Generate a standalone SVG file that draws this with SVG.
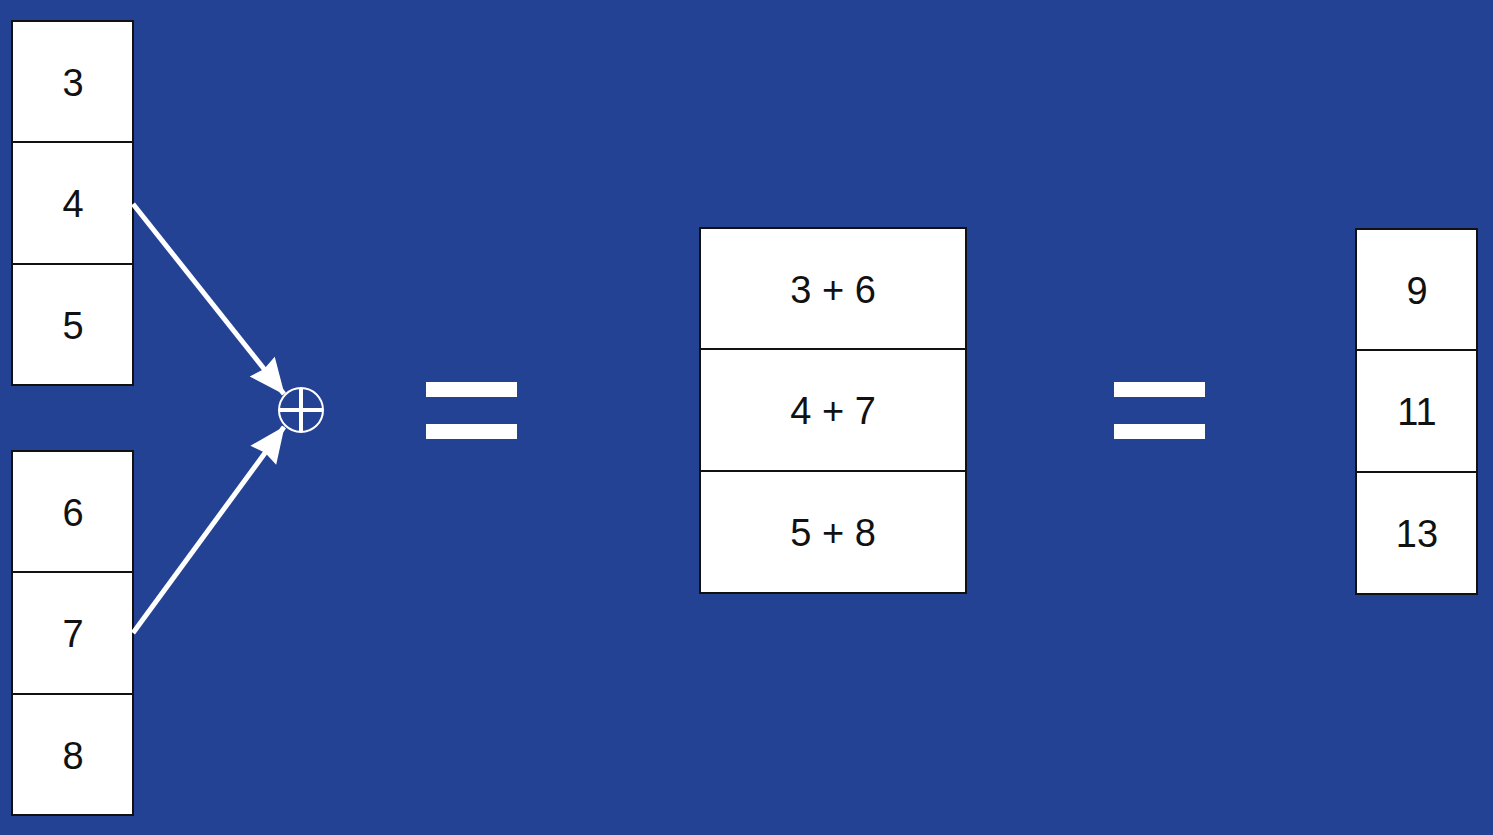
<svg xmlns="http://www.w3.org/2000/svg" width="1493" height="835" viewBox="0 0 1493 835">
<style>
.cell{fill:#ffffff;stroke:#111111;stroke-width:2}
.t{font-family:"Liberation Sans",Arial,sans-serif;font-size:38px;fill:#111111;text-anchor:middle}
.eq{fill:#ffffff}
.conn{stroke:#ffffff;stroke-width:5;fill:none}
</style>
<defs>
<marker id="ah" markerUnits="userSpaceOnUse" viewBox="0 0 36 32" markerWidth="36" markerHeight="32" refX="35" refY="16" orient="auto" overflow="visible">
<path d="M0,0 L36,16 L0,32 L3,16 Z" fill="#ffffff"/>
</marker>
</defs>
<rect width="1493" height="835" fill="#234294"/>
<g id="vecA">
<rect class="cell" x="12" y="21" width="121" height="121"/>
<rect class="cell" x="12" y="142" width="121" height="122"/>
<rect class="cell" x="12" y="264" width="121" height="121"/>
<text class="t" x="73" y="96">3</text>
<text class="t" x="73" y="217">4</text>
<text class="t" x="73" y="339">5</text>
</g>
<g id="vecB">
<rect class="cell" x="12" y="451" width="121" height="121"/>
<rect class="cell" x="12" y="572" width="121" height="122"/>
<rect class="cell" x="12" y="694" width="121" height="121"/>
<text class="t" x="73" y="526">6</text>
<text class="t" x="73" y="647">7</text>
<text class="t" x="73" y="769">8</text>
</g>
<g id="plus">
<circle cx="301" cy="410" r="22" fill="none" stroke="#ffffff" stroke-width="2"/>
<line x1="279" y1="410" x2="323" y2="410" stroke="#ffffff" stroke-width="4"/>
<line x1="301" y1="388" x2="301" y2="432" stroke="#ffffff" stroke-width="4"/>
</g>
<g id="connectors">
<line class="conn" x1="133" y1="204" x2="284" y2="394" marker-end="url(#ah)"/>
<line class="conn" x1="133" y1="633" x2="284" y2="427" marker-end="url(#ah)"/>
</g>
<g id="eq1">
<rect class="eq" x="426" y="382" width="91" height="15"/>
<rect class="eq" x="426" y="424" width="91" height="15"/>
</g>
<g id="vecSum">
<rect class="cell" x="700" y="228" width="266" height="121"/>
<rect class="cell" x="700" y="349" width="266" height="122"/>
<rect class="cell" x="700" y="471" width="266" height="122"/>
<text class="t" x="833" y="303">3 + 6</text>
<text class="t" x="833" y="424">4 + 7</text>
<text class="t" x="833" y="546">5 + 8</text>
</g>
<g id="eq2">
<rect class="eq" x="1114" y="382" width="91" height="15"/>
<rect class="eq" x="1114" y="424" width="91" height="15"/>
</g>
<g id="vecResult">
<rect class="cell" x="1356" y="229" width="121" height="121"/>
<rect class="cell" x="1356" y="350" width="121" height="122"/>
<rect class="cell" x="1356" y="472" width="121" height="122"/>
<text class="t" x="1417" y="304">9</text>
<text class="t" x="1417" y="425">11</text>
<text class="t" x="1417" y="547">13</text>
</g>
</svg>
